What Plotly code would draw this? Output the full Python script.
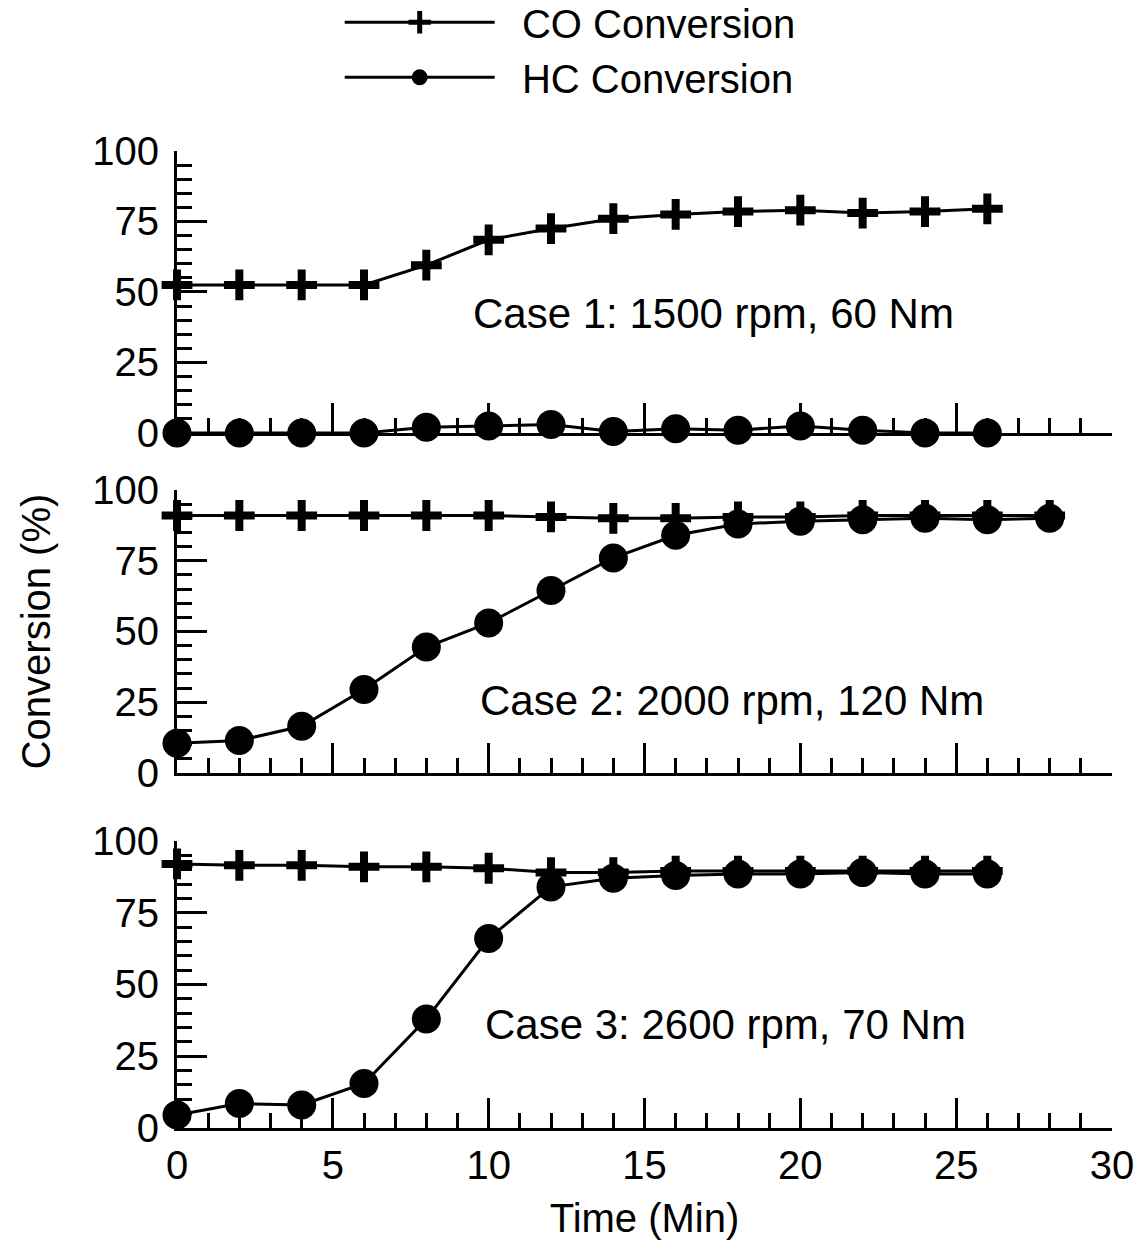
import plotly.graph_objects as go
from plotly.subplots import make_subplots

# ---- data ----
time1 = [0, 2, 4, 6, 8, 10, 12, 14, 16, 18, 20, 22, 24, 26]
co1 = [52.5, 52.5, 52.5, 52.5, 59.5, 68.5, 72.5, 76, 77.5, 78.5, 79, 78, 78.5, 79.5]
hc1 = [0, 0, 0, 0, 2, 2.5, 3, 0.5, 1.5, 1, 2.5, 1, 0, 0]

time2 = [0, 2, 4, 6, 8, 10, 12, 14, 16, 18, 20, 22, 24, 26, 28]
co2 = [91, 91, 91, 91, 91, 91, 90.5, 90, 90, 90.5, 90.5, 91, 91, 91, 91]
hc2 = [10.5, 11.5, 16.5, 29.5, 44.5, 53, 64.5, 76, 84, 88, 89, 89.5, 90, 89.5, 90]

time3 = [0, 2, 4, 6, 8, 10, 12, 14, 16, 18, 20, 22, 24, 26]
co3 = [92, 91.5, 91.5, 91, 91, 90.5, 89, 89, 89.5, 89.5, 89.5, 89.5, 89.5, 89.5]
hc3 = [4.5, 8.5, 8, 15.5, 38, 66, 84, 87, 88, 88.5, 88.5, 89, 88.5, 88.5]

case_labels = ["Case 1: 1500 rpm, 60 Nm", "Case 2: 2000 rpm, 120 Nm", "Case 3: 2600 rpm, 70 Nm"]
case_pos = [(17.2, 42.2), (17.8, 25.5), (17.6, 36)]

y_ticks = [0, 25, 50, 75, 100]
x_ticks = [0, 5, 10, 15, 20, 25, 30]

FONT = "Arial, Liberation Sans, sans-serif"
FS = 40

fig = make_subplots(rows=3, cols=1, shared_xaxes=False, vertical_spacing=0.06)

panels = [(time1, co1, hc1), (time2, co2, hc2), (time3, co3, hc3)]
for i, (t, co, hc) in enumerate(panels, start=1):
    fig.add_trace(go.Scatter(
        x=t, y=co, mode="lines+markers", name="\u00a0\u00a0CO Conversion",
        showlegend=(i == 1), cliponaxis=False,
        line=dict(color="black", width=3),
        marker=dict(symbol="cross-thin", size=22, color="black",
                    line=dict(color="black", width=8)),
    ), row=i, col=1)
    fig.add_trace(go.Scatter(
        x=t, y=hc, mode="lines+markers", name="\u00a0\u00a0HC Conversion",
        showlegend=(i == 1), cliponaxis=False,
        line=dict(color="black", width=3),
        marker=dict(symbol="circle", size=29, color="black"),
    ), row=i, col=1)

domains = [(0.7114, 1.0), (0.3634, 0.653), (0.0, 0.2938)]
for i in range(1, 4):
    xa = dict(
        range=[0, 30], tickvals=x_ticks, ticks="inside", ticklen=30, tickwidth=3,
        tickcolor="black", showline=True, linewidth=3, linecolor="black",
        showgrid=False, zeroline=False,
        minor=dict(dtick=1, ticks="inside", ticklen=15, tickwidth=3, tickcolor="black", showgrid=False),
        showticklabels=(i == 3), tickfont=dict(family=FONT, size=FS, color="black"),
    )
    ya = dict(
        range=[0, 100], tickvals=y_ticks, ticks="inside", ticklen=30, tickwidth=3,
        tickcolor="black", showline=True, linewidth=3, linecolor="black",
        showgrid=False, zeroline=False, domain=list(domains[i - 1]),
        minor=dict(dtick=5, ticks="inside", ticklen=15, tickwidth=3, tickcolor="black", showgrid=False),
        tickfont=dict(family=FONT, size=FS, color="black"), ticklabelstandoff=7,
    )
    if i == 3:
        xa["title"] = dict(text="Time (Min)", font=dict(family=FONT, size=FS, color="black"), standoff=18)
    if i == 2:
        ya["title"] = dict(text="Conversion (%)", font=dict(family=FONT, size=FS, color="black"), standoff=30)
    fig.update_xaxes(xa, row=i, col=1)
    fig.update_yaxes(ya, row=i, col=1)
    fig.add_annotation(x=case_pos[i - 1][0], y=case_pos[i - 1][1], text=case_labels[i - 1],
                       showarrow=False, xref=f"x{'' if i == 1 else i}", yref=f"y{'' if i == 1 else i}",
                       font=dict(family=FONT, size=42, color="black"))

fig.update_layout(
    width=1142, height=1245,
    margin=dict(l=177, r=30, t=151, b=117, autoexpand=False),
    paper_bgcolor="white", plot_bgcolor="white",
    font=dict(family=FONT, size=FS, color="black"),
    legend=dict(x=0.174, y=1.165, xanchor="left", yanchor="top", itemwidth=150,
                font=dict(family=FONT, size=FS, color="black"), bgcolor="rgba(0,0,0,0)",
                tracegroupgap=0),
)

fig.write_html("out.html")
